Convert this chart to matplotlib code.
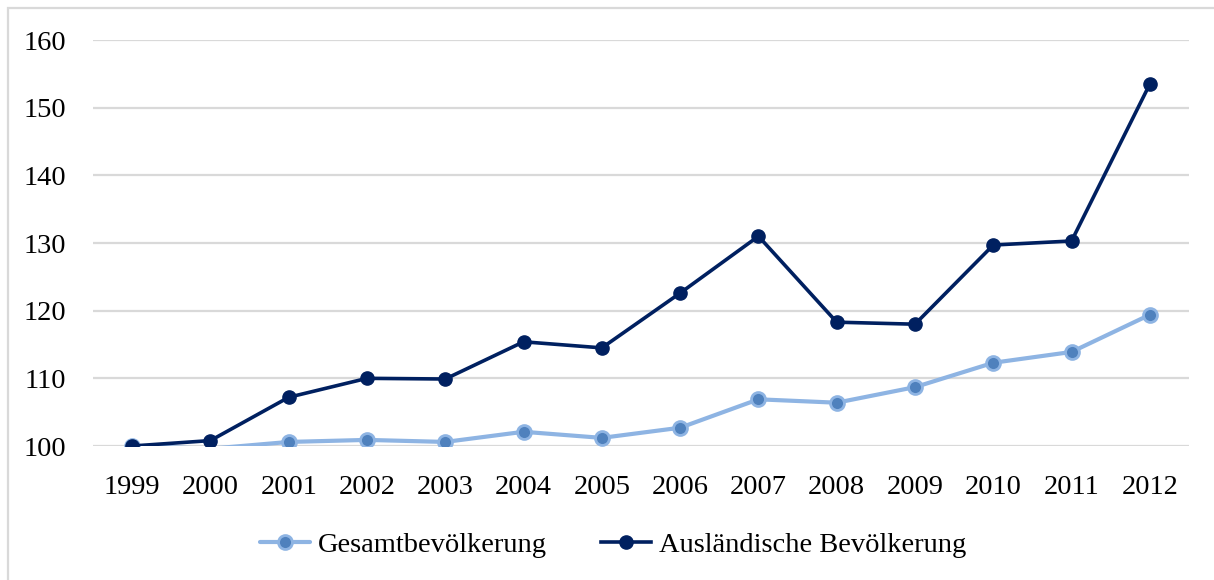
import matplotlib
matplotlib.use("Agg")
import matplotlib.pyplot as plt
from matplotlib.patches import Rectangle

years = ["1999", "2000", "2001", "2002", "2003", "2004", "2005",
         "2006", "2007", "2008", "2009", "2010", "2011", "2012"]
gesamt = [100.0, 99.6, 100.6, 100.9, 100.6, 102.1, 101.2,
          102.7, 106.9, 106.4, 108.7, 112.3, 113.9, 119.4]
auslaender = [100.0, 100.8, 107.2, 110.0, 109.9, 115.4, 114.5,
              122.6, 131.0, 118.3, 118.0, 129.7, 130.3, 153.5]
yticks = [100, 110, 120, 130, 140, 150, 160]
labels = ["Gesamtbevölkerung", "Ausländische Bevölkerung"]

plt.rcParams['font.family'] = ['Liberation Serif', 'DejaVu Serif']

fig = plt.figure(figsize=(12.14, 5.80), dpi=100)
ax = fig.add_axes([93/1214, 1 - 446/580, (1189 - 93)/1214, (446 - 40)/580])

x = list(range(len(years)))
ymin, ymax = yticks[0], yticks[-1]
vis = [i for i, v in enumerate(gesamt) if v >= ymin]

ax.plot(x, gesamt, color="#8EB4E3", lw=3.0, marker="o", ms=10,
        markerfacecolor="#4F81BD", markeredgecolor="#8EB4E3", mew=2,
        markevery=vis, label=labels[0], zorder=3, solid_capstyle="round")
ax.plot(x, auslaender, color="#002060", lw=2.6, marker="o", ms=9.5,
        markerfacecolor="#002060", markeredgecolor="#002060",
        label=labels[1], zorder=4)

ax.set_xlim(-0.5, len(years) - 0.5)
ax.set_ylim(ymin, ymax)
ax.set_yticks(yticks)
ax.set_xticks(x)
ax.set_xticklabels(years)
ax.yaxis.grid(True, color="#D9D9D9", lw=1.6)
ax.set_axisbelow(True)
for s in ax.spines.values():
    s.set_visible(False)
ax.tick_params(axis="both", length=0, labelsize=20.5, colors="black")
ax.tick_params(axis="y", pad=19.5)
ax.tick_params(axis="x", pad=21)

leg = fig.legend(loc="center", bbox_to_anchor=(0.505, 1 - 545/580), ncol=2,
                 frameon=False, fontsize=20.5, handlelength=1.75,
                 columnspacing=1.9, handletextpad=0.28)

fig.patches.append(Rectangle((8/1214, -0.05), 1.1, 1.05 - 8/580 + 0.0,
                             transform=fig.transFigure, fill=False,
                             edgecolor="#D9D9D9", lw=1.6))

fig.savefig("out.png", dpi=100)
